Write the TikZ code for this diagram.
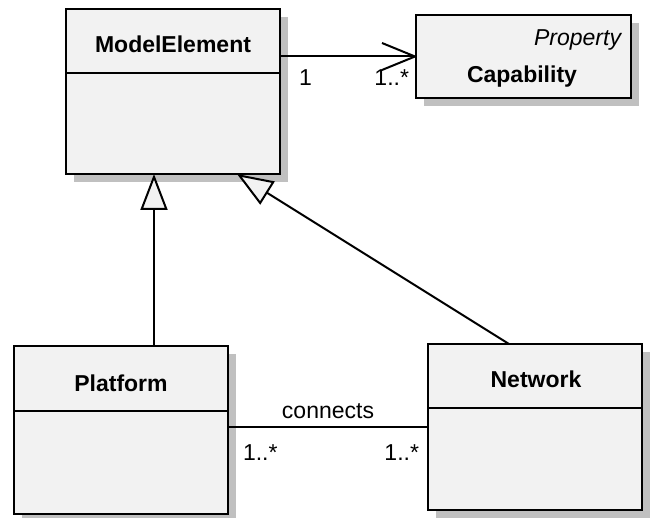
\documentclass[tikz,border=0pt]{standalone}
\usepackage{fontspec}
\setmainfont{Liberation Sans}
\usetikzlibrary{arrows.meta,shadows,calc}
\definecolor{boxfill}{HTML}{F2F2F2}
\definecolor{shadowgray}{HTML}{C0C0C0}
\begin{document}
\begin{tikzpicture}[x=1pt,y=-1pt,line width=2pt,
  font=\fontsize{23}{28}\selectfont,
  classbox/.style={draw,fill=boxfill,rectangle,inner sep=0pt,outer sep=0pt,
    anchor=north west,
    drop shadow={shadow xshift=8pt,shadow yshift=-8pt,fill=shadowgray,opacity=1}},
  title/.style={font=\fontsize{23}{28}\selectfont\bfseries,anchor=base,inner sep=0pt},
  stereo/.style={font=\fontsize{23}{28}\selectfont\itshape,anchor=base east,inner sep=0pt},
  lbl/.style={inner sep=0pt},
  assoc/.style={draw,line join=round},
  navig/.style={assoc,-{Straight Barb[length=33pt,width=27pt,line join=round]}},
  gen/.style={draw,-{Triangle[length=36pt,width=27pt,fill=boxfill]}}]
\useasboundingbox (0,0) rectangle (653,518);

% class boxes
\node[classbox,minimum width=214pt,minimum height=165pt] (me) at (66,9) {};
\node[classbox,minimum width=215pt,minimum height=83pt] (cap) at (416,15) {};
\node[classbox,minimum width=214pt,minimum height=168pt] (plat) at (14,346) {};
\node[classbox,minimum width=214pt,minimum height=166pt] (net) at (428,344) {};

% compartment dividers
\draw ([yshift=-64pt]me.north west) -- ([yshift=-64pt]me.north east);
\draw ([yshift=-65pt]plat.north west) -- ([yshift=-65pt]plat.north east);
\draw ([yshift=-64pt]net.north west) -- ([yshift=-64pt]net.north east);

% class names
\node[title] (meT) at (173,53) {ModelElement};
\node[stereo] (capS) at (622,46) {Property};
\node[title] (capT) at (522,83) {Capability};
\node[title] (platT) at (121,391) {Platform};
\node[title] (netT) at (536,387) {Network};

% association ModelElement -> Capability
\draw[navig] (me.east |- cap.west) -- (cap.west)
  node[lbl,pos=0,anchor=base west,xshift=18pt,yshift=-29pt] (m1) {1}
  node[lbl,pos=1,anchor=base east,xshift=-6pt,yshift=-29pt] (m2) {1..*};

% generalizations
\draw[gen] ([xshift=140pt]plat.north west) -- ([xshift=140pt]plat.north west |- me.south);
\draw[gen] ([xshift=81pt]net.north west) -- ([xshift=171pt]me.south west);

% association Platform -- Network
\draw[assoc] (plat.east |- net.west) -- (net.west)
  node[lbl,midway,anchor=base,yshift=8.5pt] (conn) {connects}
  node[lbl,pos=0,anchor=base west,xshift=14pt,yshift=-33.5pt] (m3) {1..*}
  node[lbl,pos=1,anchor=base east,xshift=-8pt,yshift=-33.5pt] (m4) {1..*};
\end{tikzpicture}
\end{document}
